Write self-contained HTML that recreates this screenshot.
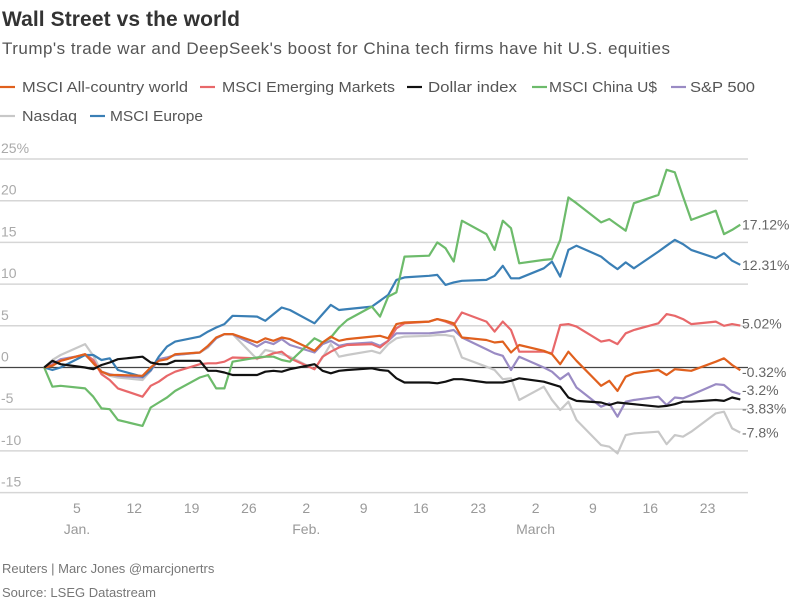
<!DOCTYPE html>
<html><head><meta charset="utf-8"><style>
body{margin:0;background:#fff;}
svg{display:block;font-family:"Liberation Sans",sans-serif;}
</style></head><body>
<svg id="c" width="790" height="600" viewBox="0 0 790 600">
<text x="2" y="26" font-size="21" font-weight="bold" fill="#333" textLength="238">Wall Street vs the world</text>
<text x="2" y="54" font-size="17" fill="#555" textLength="668">Trump's trade war and DeepSeek's boost for China tech firms have hit U.S. equities</text>
<g id="legend" font-size="15" fill="#555"></g>
<g id="grid"></g>
<g id="xaxis" font-size="14" fill="#999"></g>
<g id="series"></g>
<g id="endlabels" font-size="14" fill="#666"></g>
<text x="2" y="573" font-size="13" fill="#777">Reuters | Marc Jones @marcjonertrs</text>
<text x="2" y="597" font-size="13" fill="#777">Source: LSEG Datastream</text>
</svg>
<script>
const days=[1,2,3,6,7,8,9,10,13,14,15,16,17,20,21,22,23,24,27,28,29,30,31,34,35,36,37,38,41,42,43,44,45,48,49,50,51,52,55,56,57,58,59,62,63,64,65,66,69,70,71,72,73,76,77,78,79,80,83,84,85,86];
const acwi=[0,0.2,0.8,1.6,0.5,-0.5,-0.9,-0.9,-1.0,0,0.8,1,1.6,1.8,2.6,3.6,4.0,4,3,3.5,3.2,3.6,3.4,2,3,3.7,3.2,3.4,3.7,3.8,3.5,5.2,5.4,5.5,5.8,5.6,5.3,3.6,3.3,3,3.1,1.8,2.7,2,1.6,0.4,1.9,0.8,-2.2,-1.6,-2.8,-1.1,-0.7,-0.3,-0.9,-0.2,-0.3,-0.4,0.7,1.1,0.3,-0.32];
const em=[0,0.3,0.8,1.6,0.9,-0.8,-1.5,-2.5,-3.5,-2.2,-1.7,-1,-0.5,0.4,0.5,0.5,0.7,1.2,1.1,1.3,1.7,1.9,1.1,-0.2,1.3,1.9,2.4,2.7,2.8,2.4,3.2,4.7,5.3,5.5,5.8,5.5,5.1,6.6,5.5,4.3,5.5,4.5,1.9,1.9,1.7,5.1,5.2,4.9,3.1,3.3,2.8,4.1,4.5,5.3,6.4,6.2,5.8,5.2,5.5,5,5.2,5.02];
const dxy=[0,0.8,0.4,0,-0.2,0.3,0.6,1,1.3,0.6,0.4,0.4,0.8,0.8,-0.4,-0.4,-0.6,-0.9,-0.9,-0.5,-0.4,-0.5,-0.2,0.4,-0.4,-0.7,-0.4,-0.3,-0.1,-0.3,-0.4,-1.3,-1.8,-1.8,-1.9,-1.7,-1.4,-1.4,-1.8,-1.8,-1.8,-1.6,-1.3,-1.7,-2.0,-2.3,-3.6,-4.0,-4.2,-4.5,-4.2,-4.3,-4.4,-4.7,-4.6,-4.4,-4.1,-4.1,-3.9,-4,-3.6,-3.83];
const china=[0,-2.3,-2.2,-2.5,-3.5,-4.9,-5,-6.3,-7,-4.8,-4.2,-3.6,-2.8,-1.2,-0.9,-2.5,-2.5,0.7,1.2,1.3,1.3,0.9,0.7,3.5,3,3.6,4.8,5.7,7.3,6.1,8.5,9,13.3,13.4,15,14.3,12.7,17.6,16,14.1,17.6,16.7,12.5,12.9,13,15.3,20.4,19.7,17.4,17.8,17.1,16.4,19.7,20.7,23.7,23.4,20.5,17.7,18.8,16,16.5,17.12];
const spx=[0,0.4,1,1.5,0.6,-0.5,-0.8,-1,-1.2,-0.4,1,1.2,1.5,1.8,2.5,3.5,4,4,2.5,3.1,2.8,3.4,2.7,1.8,2.8,3.2,2.6,2.8,3,2.6,3.2,4.1,4.1,4.1,4.2,4.3,4.5,3.6,2.2,1.7,1.4,-0.3,1.3,0,-0.5,-1.4,-0.7,-2.4,-4.7,-4.3,-5.9,-4.1,-3.9,-3.5,-4.5,-3.6,-3.7,-3.3,-2,-2.1,-2.9,-3.2];
const nasdaq=[0,0.9,1.5,2.8,1.4,-0.5,-1,-1.2,-1.5,-0.4,1,1.2,1.5,1.8,2.4,3.5,4,4,1,2.1,1.9,1.6,1.3,-0.2,1.2,2.8,1.3,1.5,2,1.7,2.8,3.5,3.7,3.8,3.9,3.9,3.7,1.2,0.1,-0.3,-1.4,-1.3,-3.9,-2.3,-3.9,-5.1,-4.1,-6.3,-9.3,-9.5,-10.3,-8.1,-7.9,-7.7,-9.2,-8.1,-8.3,-7.7,-5.5,-5.3,-7.3,-7.8];
const europe=[0,-0.3,0,1.5,1.5,0.9,1.1,-0.3,-1.1,-0.3,1.3,2.5,3.1,3.7,4.3,4.8,5.2,6.2,6.1,5.6,6.4,7.2,6.9,5.3,6.4,7.5,6.9,7,7.3,8,8.7,10.5,10.8,11,11.1,9.9,10.2,10.4,10.5,11,12.2,10.7,10.7,11.9,12.7,10.9,14.1,14.6,13.3,12.5,11.8,12.6,11.9,13.9,14.6,15.3,14.8,14.1,13.1,13.7,12.8,12.31];
const names=["MSCI All-country world","MSCI Emerging Markets","Dollar index","MSCI China U$","S&P 500","Nasdaq","MSCI Europe"];
const endText=["-0.32%","5.02%","-3.83%","17.12%","-3.2%","-7.8%","12.31%"];
const yTicks=[25,20,15,10,5,0,-5,-10,-15];
const yTickText=["25%","20","15","10","5","0","-5","-10","-15"];
const xTickDays=[5,12,19,26,33,40,47,54,61,68,75,82];
const xTickText=["5","12","19","26","2","9","16","23","2","9","16","23"];
const monthDays=[5,33,61];
const monthText=["Jan.","Feb.","March"];

const series=[acwi,em,dxy,china,spx,nasdaq,europe];
const colors=["#e0601e","#e8686a","#111","#6dbb6b","#9a8bc4","#c8c8c8","#3a7fb5"];
const sNames=["acwi","emerging-markets","dollar-index","china","sp500","nasdaq","europe"];
const nudge=[2,-2,9,0,-4,0,0];
const NS="http://www.w3.org/2000/svg";
const X=d=>36+8.19*d;
const Y=v=>367.5-8.34*v;
function mk(tag,attrs,parent,txt){const e=document.createElementNS(NS,tag);for(const k in attrs)e.setAttribute(k,attrs[k]);if(txt!==undefined)e.textContent=txt;parent.appendChild(e);return e;}
const grid=document.getElementById('grid');
yTicks.forEach((t,i)=>{
  const l=mk('line',{x1:0,x2:748,y1:Y(t),y2:Y(t),stroke:t===0?'#444':'#d6d6d6','stroke-width':t===0?1.2:1.5},grid);
  
  
  const tx=mk('text',{x:1,y:Y(t)-6,'font-size':14,fill:'#aaa'},grid,yTickText[i]);
  
  
});
const xa=document.getElementById('xaxis');
xTickDays.forEach((d,i)=>{
  const t=mk('text',{x:X(d),y:513,'text-anchor':'middle'},xa,xTickText[i]);
  
  
});
monthDays.forEach((d,i)=>{
  const t=mk('text',{x:X(d),y:534,'text-anchor':'middle'},xa,monthText[i]);
  
  
});
const sg=document.getElementById('series');
const order=[5,4,1,6,3,0,2];
order.forEach(i=>{
  const p=mk('polyline',{points:series[i].map((v,j)=>X(days[j]).toFixed(1)+','+Y(v).toFixed(1)).join(' '),fill:'none',stroke:colors[i],'stroke-width':2.2,'stroke-linejoin':'round'},sg);
  
  
});
const el=document.getElementById('endlabels');
series.forEach((s,i)=>{
  const t=mk('text',{x:742,y:Y(s[s.length-1])+5+nudge[i]},el,endText[i]);
  
  
});
const lg=document.getElementById('legend');
const legMarker=[0,200,407,532,671,0,90];
const legText=[22,222,428,549,690,22,110];
const legY=[92,92,92,92,92,121,121];
const legW=[166,173,89,108,65,55,93];
names.forEach((n,i)=>{
  const g=mk('g',{},lg);
  
  
  mk('line',{x1:legMarker[i],x2:legMarker[i]+15,y1:legY[i]-5,y2:legY[i]-5,stroke:colors[i],'stroke-width':2.2},g);
  mk('text',{x:legText[i],y:legY[i],textLength:legW[i],lengthAdjust:'spacingAndGlyphs'},g,n);
});
</script>
</body></html>
